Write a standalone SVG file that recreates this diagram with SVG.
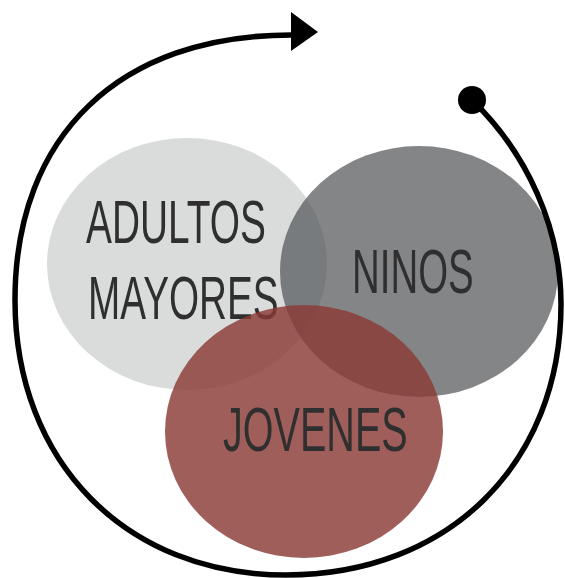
<svg xmlns="http://www.w3.org/2000/svg" width="565" height="578" viewBox="0 0 565 578">
  <style>
    .lbl { font-family: "Liberation Sans", Arial, sans-serif; font-size: 62px; fill: #2f2f2f; }
    .big { font-size: 63px; }
    .cycle { fill: none; stroke: #000; stroke-width: 5.5; }
  </style>
  <rect width="565" height="578" fill="#fff"/>
  <g id="node-adultos">
    <ellipse cx="187" cy="264" rx="140" ry="126" fill="#dadcdc"/>
    <text class="lbl" transform="translate(86,243) scale(0.627,1)">ADULTOS</text>
    <text class="lbl" transform="translate(88,319) scale(0.624,1)">MAYORES</text>
  </g>
  <g id="node-ninos">
    <ellipse cx="419" cy="271.5" rx="139" ry="125.5" fill="#4e5154" fill-opacity="0.7"/>
    <text class="lbl big" transform="translate(352,293) scale(0.61,1)">NINOS</text>
  </g>
  <g id="node-jovenes">
    <ellipse cx="304" cy="431.5" rx="139" ry="126.5" fill="#8b3a37" fill-opacity="0.82"/>
    <text class="lbl big" transform="translate(223,451) scale(0.628,1)">JOVENES</text>
  </g>
  <g id="connectors">
    <path class="cycle" d="M 472,100 C 527,153 561,228 561,304 C 561,464 448,575 286,575 C 126,575 15,462 15,300 C 15,135 120,35 291,35"/>
    <polygon points="291,12 318,32 291,51" fill="#000"/>
    <circle cx="472" cy="100" r="14" fill="#000"/>
  </g>
</svg>
